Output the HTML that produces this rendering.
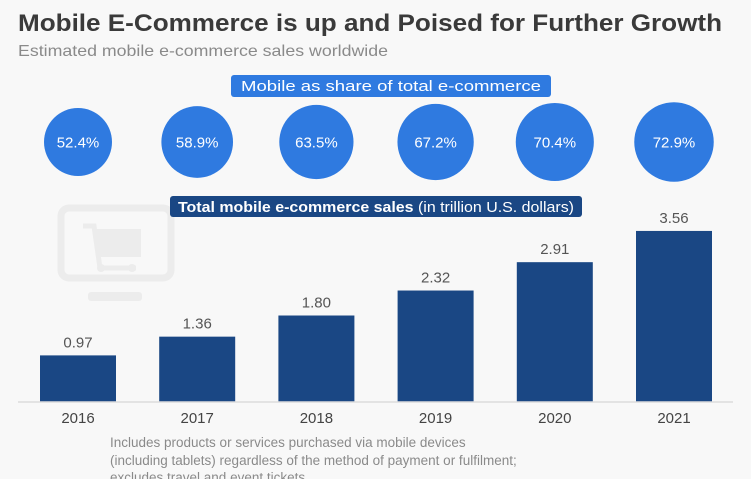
<!DOCTYPE html>
<html><head><meta charset="utf-8">
<style>
html,body{margin:0;padding:0;background:#f8f8f8;}
svg{display:block;font-family:"Liberation Sans",sans-serif;}
</style></head>
<body>
<svg id="chart" width="751" height="479" viewBox="0 0 751 479" xmlns="http://www.w3.org/2000/svg">
<rect width="751" height="479" fill="#f8f8f8"/>
<text x="18" y="31" font-size="24" font-weight="bold" fill="#3a3a3a" textLength="704" lengthAdjust="spacingAndGlyphs">Mobile E-Commerce is up and Poised for Further Growth</text>
<text x="18" y="56" font-size="16" fill="#8a8a8a" textLength="370" lengthAdjust="spacingAndGlyphs">Estimated mobile e-commerce sales worldwide</text>
<rect x="231" y="75" width="320" height="22" rx="3" fill="#2f7ae0"/>
<text x="391" y="91" font-size="15" fill="#fff" text-anchor="middle" textLength="300" lengthAdjust="spacingAndGlyphs">Mobile as share of total e-commerce</text>
<g id="circles"></g>
<g fill="none" stroke="#ececec">
<rect x="61" y="208" width="110" height="70" rx="8" stroke-width="7"/>
<rect x="88" y="292" width="54" height="9" rx="3" fill="#ececec" stroke="none"/>
<path d="M83 226 H94 L100 268 H136" stroke-width="5"/>
<rect x="97" y="229" width="44" height="28" fill="#ececec" stroke="none"/>
<circle cx="101" cy="268" r="4" fill="#ececec" stroke="none"/>
<circle cx="132" cy="268" r="4" fill="#ececec" stroke="none"/>
</g>
<rect x="170" y="196" width="412" height="21" rx="3" fill="#1a4784"/>
<text x="376" y="212" font-size="15" fill="#fff" text-anchor="middle" textLength="396" lengthAdjust="spacingAndGlyphs"><tspan font-weight="bold">Total mobile e-commerce sales</tspan> (in trillion U.S. dollars)</text>
<g id="bars"></g>
<line x1="18" y1="402" x2="733" y2="402" stroke="#dcdcdc" stroke-width="1.5"/>
<g font-size="13.5" fill="#8a8a8a">
<text x="110" y="447">Includes products or services purchased via mobile devices</text>
<text x="110" y="465">(including tablets) regardless of the method of payment or fulfilment;</text>
<text x="110" y="482">excludes travel and event tickets</text>
</g>
</svg>
<script>
const years = ["2016","2017","2018","2019","2020","2021"];
const sales = [0.97, 1.36, 1.80, 2.32, 2.91, 3.56];
const salesLabels = ["0.97","1.36","1.80","2.32","2.91","3.56"];
const shares = [52.4, 58.9, 63.5, 67.2, 70.4, 72.9];
const shareLabels = ["52.4%","58.9%","63.5%","67.2%","70.4%","72.9%"];

const NS="http://www.w3.org/2000/svg";
const baseY=402, pxPerUnit=48.05;
const xCenter=i=>78+i*119.2;
const yScale=v=>baseY-v*pxPerUnit;
const rScale=s=>34+(s-52.4)*0.28;
function mk(t,a){const e=document.createElementNS(NS,t);for(const k in a)e.setAttribute(k,a[k]);return e;}
const bars=document.getElementById('bars');
const circles=document.getElementById('circles');
years.forEach((y,i)=>{
  const cx=xCenter(i), top=yScale(sales[i]);
  const r=mk('rect',{x:cx-38,y:top,width:76,height:baseY-top,fill:'#1a4784'});
  
  
  bars.appendChild(r);
  const vl=mk('text',{x:cx,y:top-8,'font-size':'15','text-anchor':'middle',fill:'#555'});
  vl.textContent=salesLabels[i];
  
  
  bars.appendChild(vl);
  const xl=mk('text',{x:cx,y:423,'font-size':'15','text-anchor':'middle',fill:'#444'});
  xl.textContent=y;
  
  
  bars.appendChild(xl);
  const c=mk('circle',{cx:cx,cy:142,r:rScale(shares[i]),fill:'#2f7ae0'});
  
  
  circles.appendChild(c);
  const ct=mk('text',{x:cx,y:147.5,'font-size':'15','text-anchor':'middle',fill:'#fff'});
  ct.textContent=shareLabels[i];
  
  
  circles.appendChild(ct);
});
</script>
</body></html>
